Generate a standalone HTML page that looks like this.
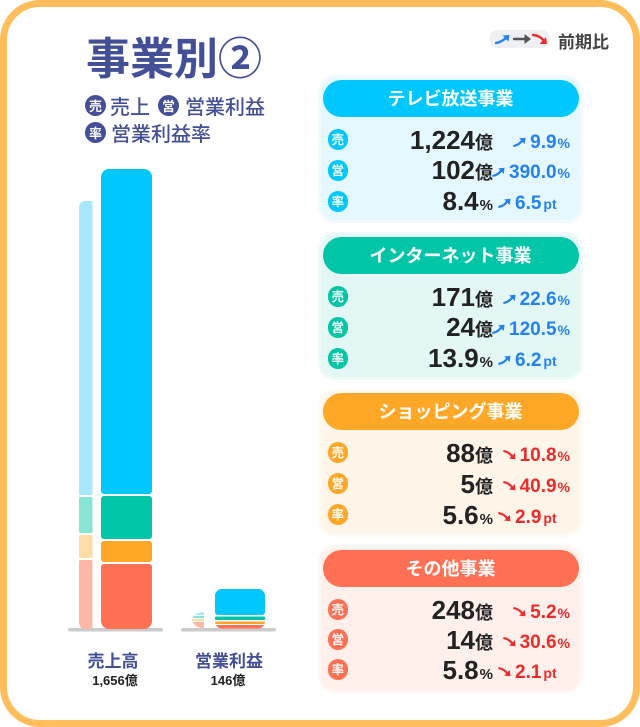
<!DOCTYPE html>
<html><head><meta charset="utf-8">
<style>
*{margin:0;padding:0;box-sizing:border-box}
html,body{width:640px;height:727px;background:#fff;overflow:hidden}
body{position:relative;font-family:"Liberation Sans","Noto Sans CJK JP",sans-serif}
.frame{position:absolute;left:0;top:0;width:640px;height:727px;border:7px solid #ffbd5c;border-radius:40px;background:#fff}
.abs{position:absolute;white-space:nowrap}
.title{left:86px;top:33px;font-size:44px;line-height:44px;font-weight:700;color:#434f96;font-family:"Noto Sans CJK JP",sans-serif}
.lg{font-size:20px;line-height:20px;color:#434f96;font-weight:500;font-family:"Noto Sans CJK JP",sans-serif}
.lc{position:absolute;width:21px;height:21px;border-radius:50%;background:#434f96;color:#fff;font-size:13px;line-height:21px;text-align:center;font-weight:700;font-family:"Noto Sans CJK JP",sans-serif}
.panel{position:absolute;left:318px;width:265px;height:148px;border-radius:17px;border:3px solid}
.hdr{position:absolute;left:322.5px;width:256px;height:37px;border-radius:18.5px;color:#fff;font-size:18px;line-height:37px;text-align:center;font-weight:700;font-family:"Noto Sans CJK JP",sans-serif}
.ic{position:absolute;left:327.5px;width:20.5px;height:20.5px;border-radius:50%;color:#fff;font-size:12.5px;line-height:20.5px;text-align:center;font-weight:700;font-family:"Noto Sans CJK JP",sans-serif}
.num{position:absolute;right:147px;height:30px;line-height:30px;font-size:26px;font-weight:700;color:#222;white-space:nowrap}
.num .u{font-size:18px;line-height:10px}
.num .p{font-size:15px;line-height:10px;font-weight:700;margin-left:1px}
.chg{position:absolute;height:30px;line-height:30px;font-size:19px;font-weight:700;white-space:nowrap}
.chg .s{font-size:14px;line-height:10px;margin-left:1px}
.chg .t{font-size:14px;line-height:10px;margin-left:2px}
.chg svg{display:inline-block;vertical-align:1px;margin-right:4px}
.r{right:70px}
.l{left:498px}
.blue{color:#2382f0}
.red{color:#ee2b2b}
.lab{position:absolute;font-size:17px;line-height:17px;font-weight:700;color:#434f96;text-align:center;font-family:"Noto Sans CJK JP",sans-serif}
.sub{position:absolute;font-size:13px;line-height:13px;font-weight:700;color:#222;text-align:center}
</style></head><body>
<div class="frame"></div>

<div class="abs title">事業別②</div>
<div class="lc" style="left:85px;top:95px">売</div>
<div class="abs lg" style="left:110px;top:96px">売上</div>
<div class="lc" style="left:158px;top:95px">営</div>
<div class="abs lg" style="left:185px;top:96px">営業利益</div>
<div class="lc" style="left:85px;top:122px">率</div>
<div class="abs lg" style="left:111px;top:123px">営業利益率</div>

<!-- top-right legend -->
<svg class="abs" style="left:486px;top:28px" width="68" height="22" viewBox="0 0 68 22">
<rect x="3" y="2" width="61" height="18" rx="9" fill="#eef0f4"/>
<path d="M10,15 Q16,14 21,9" stroke="#2382f0" stroke-width="2.4" fill="none" stroke-linecap="round"/>
<path d="M23.5,7 L16.5,7.5 L22.5,13.5 Z" fill="#2382f0"/>
<path d="M28,11 L41,11" stroke="#555" stroke-width="2.4" stroke-linecap="round"/>
<path d="M45,11 L38.5,6 L38.5,16 Z" fill="#555"/>
<path d="M47,7 Q54,7.5 58,13" stroke="#ee2b2b" stroke-width="2.4" fill="none" stroke-linecap="round"/>
<path d="M61,16 L53.5,16 L60,9 Z" fill="#ee2b2b"/>
</svg>
<div class="abs" style="left:558px;top:32px;font-size:17px;line-height:17px;color:#444;font-weight:700;font-family:'Noto Sans CJK JP',sans-serif">前期比</div>

<!-- bars -->
<svg class="abs" style="left:0;top:0" width="640" height="727" viewBox="0 0 640 727">
<defs>
<clipPath id="cm"><rect x="101" y="169" width="51" height="460" rx="8"/></clipPath>
<clipPath id="cl"><path d="M92.5,201 L86,201 Q79,201 79,208 L79,622 Q79,629 86,629 L92.5,629 Z"/></clipPath>
<clipPath id="cp"><rect x="215" y="589" width="50" height="39.5" rx="7"/></clipPath>
<clipPath id="cs"><path d="M204,612 A12,8 0 0 0 192,620 A12,8 0 0 0 204,628 Z"/></clipPath>
</defs>
<rect x="68" y="628" width="95" height="3.5" rx="1.75" fill="#cbcbcb"/>
<rect x="181" y="628" width="95" height="3.5" rx="1.75" fill="#cbcbcb"/>
<g clip-path="url(#cm)">
<rect x="101" y="169" width="51" height="325" rx="3" fill="#00c8ff"/>
<rect x="101" y="496" width="51" height="43" rx="3" fill="#00c6a7"/>
<rect x="101" y="541" width="51" height="21" rx="3" fill="#ffa828"/>
<rect x="101" y="564" width="51" height="65" rx="3" fill="#ff7054"/>
</g>
<g clip-path="url(#cl)">
<rect x="79" y="201" width="13.5" height="294" rx="1.5" fill="#a8e8ff"/>
<rect x="79" y="497" width="13.5" height="36" rx="1.5" fill="#88e4d3"/>
<rect x="79" y="535" width="13.5" height="23" rx="1.5" fill="#ffdca8"/>
<rect x="79" y="560" width="13.5" height="69" rx="1.5" fill="#ffb8a8"/>
</g>
<g clip-path="url(#cp)">
<rect x="215" y="589" width="50" height="26" rx="3" fill="#00c8ff"/>
<rect x="215" y="616.5" width="50" height="3.5" rx="1" fill="#00c6a7"/>
<rect x="215" y="621.5" width="50" height="2.5" rx="1" fill="#ffa828"/>
<rect x="215" y="625" width="50" height="3.5" rx="1" fill="#ff7054"/>
</g>
<g clip-path="url(#cs)">
<rect x="190" y="612" width="15" height="3.2" fill="#a8e8ff"/>
<rect x="190" y="616" width="15" height="2.2" fill="#88e4d3"/>
<rect x="190" y="619" width="15" height="2.2" fill="#ffdca8"/>
<rect x="190" y="622" width="15" height="6" fill="#ffb8a8"/>
</g>
</svg>

<div class="lab" style="left:73px;width:80px;top:651px">売上高</div>
<div class="sub" style="left:75px;width:80px;top:674px">1,656億</div>
<div class="lab" style="left:189px;width:80px;top:651px">営業利益</div>
<div class="sub" style="left:188px;width:80px;top:674px">146億</div>

<!-- Panel 1 TV -->
<div class="panel" style="top:75px;background:#e6f8ff;border-color:#f1fbff"></div>
<div class="hdr" style="top:80px;background:#00c8ff">テレビ放送事業</div>
<div class="ic" style="top:129px;background:#00c8ff">売</div>
<div class="ic" style="top:160px;background:#00c8ff">営</div>
<div class="ic" style="top:191px;background:#00c8ff">率</div>
<div class="num" style="top:125px">1,224<span class="u">億</span></div>
<div class="num" style="top:155px">102<span class="u">億</span></div>
<div class="num" style="top:186px">8.4<span class="p">%</span></div>
<div class="chg r blue" style="top:128px"><svg width="13" height="10" viewBox="0 0 13 10"><path d="M1.2,8.8 Q6,8 9.5,3.2" stroke="#2382f0" stroke-width="2.2" fill="none" stroke-linecap="round"/><path d="M12.5,0.8 L6.2,1.4 L11.8,7 Z" fill="#2382f0"/></svg>9.9<span class="s">%</span></div>
<div class="chg r blue" style="top:158px"><svg width="13" height="10" viewBox="0 0 13 10"><path d="M1.2,8.8 Q6,8 9.5,3.2" stroke="#2382f0" stroke-width="2.2" fill="none" stroke-linecap="round"/><path d="M12.5,0.8 L6.2,1.4 L11.8,7 Z" fill="#2382f0"/></svg>390.0<span class="s">%</span></div>
<div class="chg l blue" style="top:189px"><svg width="13" height="10" viewBox="0 0 13 10"><path d="M1.2,8.8 Q6,8 9.5,3.2" stroke="#2382f0" stroke-width="2.2" fill="none" stroke-linecap="round"/><path d="M12.5,0.8 L6.2,1.4 L11.8,7 Z" fill="#2382f0"/></svg>6.5<span class="t">pt</span></div>

<!-- Panel 2 Internet -->
<div class="panel" style="top:232px;background:#e3f7f4;border-color:#eefbf9"></div>
<div class="hdr" style="top:237px;background:#00c6a7">インターネット事業</div>
<div class="ic" style="top:286px;background:#00c6a7">売</div>
<div class="ic" style="top:317px;background:#00c6a7">営</div>
<div class="ic" style="top:348px;background:#00c6a7">率</div>
<div class="num" style="top:282px">171<span class="u">億</span></div>
<div class="num" style="top:312px">24<span class="u">億</span></div>
<div class="num" style="top:343px">13.9<span class="p">%</span></div>
<div class="chg r blue" style="top:285px"><svg width="13" height="10" viewBox="0 0 13 10"><path d="M1.2,8.8 Q6,8 9.5,3.2" stroke="#2382f0" stroke-width="2.2" fill="none" stroke-linecap="round"/><path d="M12.5,0.8 L6.2,1.4 L11.8,7 Z" fill="#2382f0"/></svg>22.6<span class="s">%</span></div>
<div class="chg r blue" style="top:315px"><svg width="13" height="10" viewBox="0 0 13 10"><path d="M1.2,8.8 Q6,8 9.5,3.2" stroke="#2382f0" stroke-width="2.2" fill="none" stroke-linecap="round"/><path d="M12.5,0.8 L6.2,1.4 L11.8,7 Z" fill="#2382f0"/></svg>120.5<span class="s">%</span></div>
<div class="chg l blue" style="top:346px"><svg width="13" height="10" viewBox="0 0 13 10"><path d="M1.2,8.8 Q6,8 9.5,3.2" stroke="#2382f0" stroke-width="2.2" fill="none" stroke-linecap="round"/><path d="M12.5,0.8 L6.2,1.4 L11.8,7 Z" fill="#2382f0"/></svg>6.2<span class="t">pt</span></div>

<!-- Panel 3 Shopping -->
<div class="panel" style="top:389px;background:#fff5e8;border-color:#fffaf2"></div>
<div class="hdr" style="top:393px;background:#ffa828">ショッピング事業</div>
<div class="ic" style="top:442px;background:#ffa828">売</div>
<div class="ic" style="top:473px;background:#ffa828">営</div>
<div class="ic" style="top:504px;background:#ffa828">率</div>
<div class="num" style="top:438px">88<span class="u">億</span></div>
<div class="num" style="top:469px">5<span class="u">億</span></div>
<div class="num" style="top:500px">5.6<span class="p">%</span></div>
<div class="chg r red" style="top:441px"><svg width="13" height="10" viewBox="0 0 13 10"><path d="M1.2,1.2 Q6,2 9.5,6.8" stroke="#ee2b2b" stroke-width="2.2" fill="none" stroke-linecap="round"/><path d="M12.5,9.2 L6.2,8.6 L11.8,3 Z" fill="#ee2b2b"/></svg>10.8<span class="s">%</span></div>
<div class="chg r red" style="top:472px"><svg width="13" height="10" viewBox="0 0 13 10"><path d="M1.2,1.2 Q6,2 9.5,6.8" stroke="#ee2b2b" stroke-width="2.2" fill="none" stroke-linecap="round"/><path d="M12.5,9.2 L6.2,8.6 L11.8,3 Z" fill="#ee2b2b"/></svg>40.9<span class="s">%</span></div>
<div class="chg l red" style="top:503px"><svg width="13" height="10" viewBox="0 0 13 10"><path d="M1.2,1.2 Q6,2 9.5,6.8" stroke="#ee2b2b" stroke-width="2.2" fill="none" stroke-linecap="round"/><path d="M12.5,9.2 L6.2,8.6 L11.8,3 Z" fill="#ee2b2b"/></svg>2.9<span class="t">pt</span></div>

<!-- Panel 4 Other -->
<div class="panel" style="top:545px;background:#fff0ec;border-color:#fff7f4"></div>
<div class="hdr" style="top:550px;background:#ff7054">その他事業</div>
<div class="ic" style="top:599px;background:#ff7054">売</div>
<div class="ic" style="top:629px;background:#ff7054">営</div>
<div class="ic" style="top:659px;background:#ff7054">率</div>
<div class="num" style="top:595px">248<span class="u">億</span></div>
<div class="num" style="top:625px">14<span class="u">億</span></div>
<div class="num" style="top:655px">5.8<span class="p">%</span></div>
<div class="chg r red" style="top:598px"><svg width="13" height="10" viewBox="0 0 13 10"><path d="M1.2,1.2 Q6,2 9.5,6.8" stroke="#ee2b2b" stroke-width="2.2" fill="none" stroke-linecap="round"/><path d="M12.5,9.2 L6.2,8.6 L11.8,3 Z" fill="#ee2b2b"/></svg>5.2<span class="s">%</span></div>
<div class="chg r red" style="top:628px"><svg width="13" height="10" viewBox="0 0 13 10"><path d="M1.2,1.2 Q6,2 9.5,6.8" stroke="#ee2b2b" stroke-width="2.2" fill="none" stroke-linecap="round"/><path d="M12.5,9.2 L6.2,8.6 L11.8,3 Z" fill="#ee2b2b"/></svg>30.6<span class="s">%</span></div>
<div class="chg l red" style="top:658px"><svg width="13" height="10" viewBox="0 0 13 10"><path d="M1.2,1.2 Q6,2 9.5,6.8" stroke="#ee2b2b" stroke-width="2.2" fill="none" stroke-linecap="round"/><path d="M12.5,9.2 L6.2,8.6 L11.8,3 Z" fill="#ee2b2b"/></svg>2.1<span class="t">pt</span></div>

</body></html>
